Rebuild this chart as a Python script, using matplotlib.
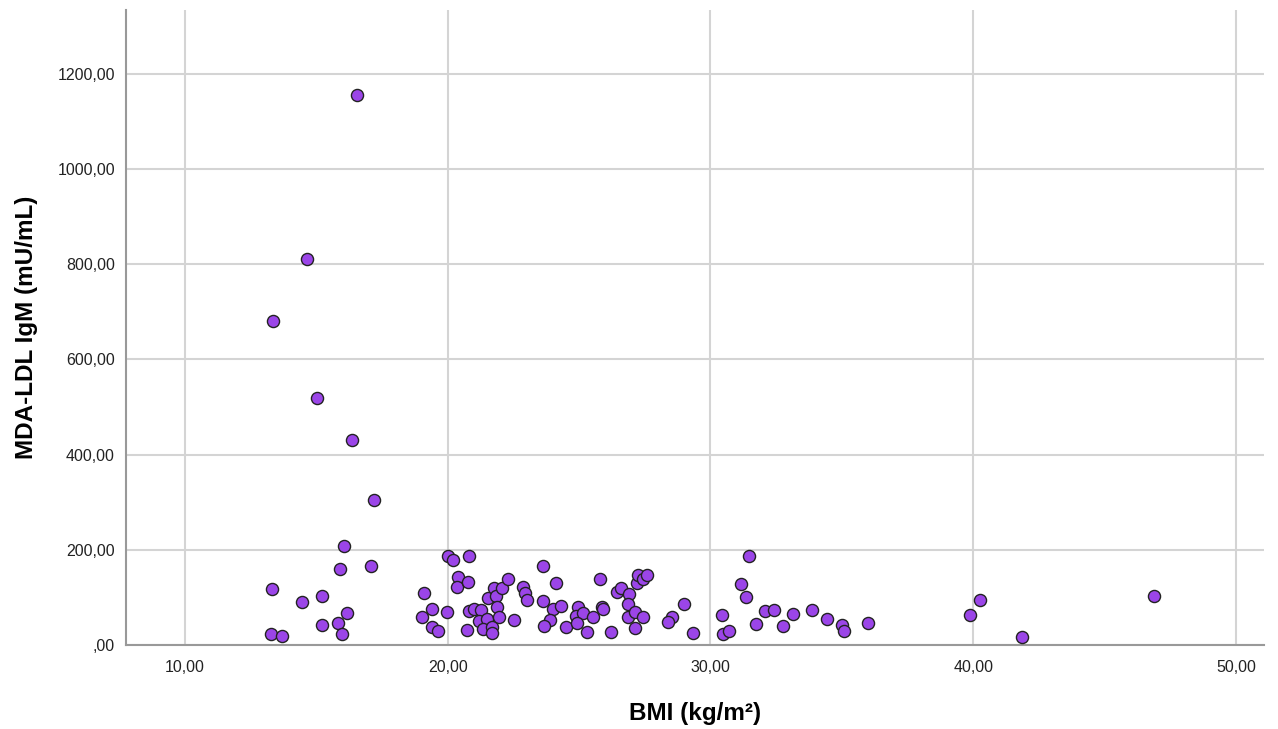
import matplotlib
matplotlib.use("Agg")
from matplotlib import pyplot as plt
from matplotlib.ticker import FuncFormatter

# BMI (kg/m2) and MDA-LDL IgM (mU/mL)
bmi = [16.55, 14.64, 13.35, 15.02, 16.35, 17.19, 16.05, 15.90, 17.08, 13.31,
       14.45, 15.21, 16.16, 15.21, 15.82, 15.97, 13.27, 13.69,
       20.01, 20.20, 20.81, 19.09, 20.39, 20.35, 20.77, 19.40, 19.02, 19.97,
       19.40, 19.63, 20.73, 20.81, 21.00, 21.26, 21.19, 21.49, 21.34, 21.68,
       21.68, 21.53, 21.76, 21.83, 22.06, 22.29, 21.87, 21.95, 22.52, 22.86,
       22.94, 23.01,
       23.62, 24.12, 25.79, 23.62, 24.00, 24.31, 23.89, 23.66, 24.50, 24.95,
       24.88, 25.14, 24.92, 25.30, 25.53, 25.87, 25.91, 26.21, 26.44, 26.59,
       26.89, 26.86, 26.86, 27.12, 27.43, 27.12, 27.20, 27.24, 27.43, 27.58,
       28.53, 28.38, 28.99, 29.33, 31.46, 31.16, 31.35, 30.43, 30.47, 30.70,
       31.73, 32.07, 32.41, 32.75, 33.14, 33.86, 34.43, 35.00, 35.08, 35.99,
       39.87, 40.25, 41.85, 46.87]
igm = [1155, 811, 681, 519, 431, 305, 208, 160, 166, 118,
       90, 103, 67, 42, 46, 23, 23, 19,
       187, 179, 187, 109, 143, 122, 132, 76, 59, 69,
       38, 29, 32, 71, 76, 74, 50, 55, 34, 38,
       25, 99, 120, 103, 120, 139, 80, 59, 53, 122,
       109, 95,
       166, 130, 139, 92, 76, 82, 53, 40, 38, 80,
       61, 67, 46, 27, 59, 80, 76, 27, 111, 120,
       107, 86, 59, 69, 59, 36, 130, 147, 139, 147,
       59, 48, 86, 25, 187, 128, 101, 63, 23, 29,
       44, 71, 74, 40, 65, 74, 55, 42, 29, 46,
       63, 95, 17, 103]

xticks = [10, 20, 30, 40, 50]
yticks = [0, 200, 400, 600, 800, 1000, 1200]

def comma_fmt(v, pos):
    s = "%.2f" % v
    if s.startswith("0."):
        s = s[1:]
    return s.replace(".", ",")

plt.rcParams['font.family'] = ['Liberation Sans', 'DejaVu Sans']

fig = plt.figure(figsize=(12.78, 7.29), dpi=100)
ax = fig.add_axes([0.0986, 0.1152, 0.8904, 0.8711])

ax.scatter(bmi, igm, s=76, c='#9b45e8', edgecolors='#222222', linewidths=1.0, zorder=3)

ax.set_xlim(7.75, 51.07)
ax.set_ylim(0, 1334)
ax.set_xticks(xticks)
ax.set_yticks(yticks)
ax.xaxis.set_major_formatter(FuncFormatter(comma_fmt))
ax.yaxis.set_major_formatter(FuncFormatter(comma_fmt))
ax.grid(True, color='#d4d4d4', linewidth=1.5, zorder=0)
ax.tick_params(length=0, labelsize=11.5, colors='#222222')
ax.tick_params(axis='x', pad=11)
ax.tick_params(axis='y', pad=8)

for side in ['top', 'right']:
    ax.spines[side].set_visible(False)
for side in ['left', 'bottom']:
    ax.spines[side].set_color('#999999')
    ax.spines[side].set_linewidth(1.5)

ax.set_xlabel("BMI (kg/m²)", fontsize=17.5, fontweight='bold', labelpad=19)
ax.set_ylabel("MDA-LDL IgM (mU/mL)", fontsize=17.5, fontweight='bold', labelpad=14)

fig.savefig("out.png", dpi=100)
